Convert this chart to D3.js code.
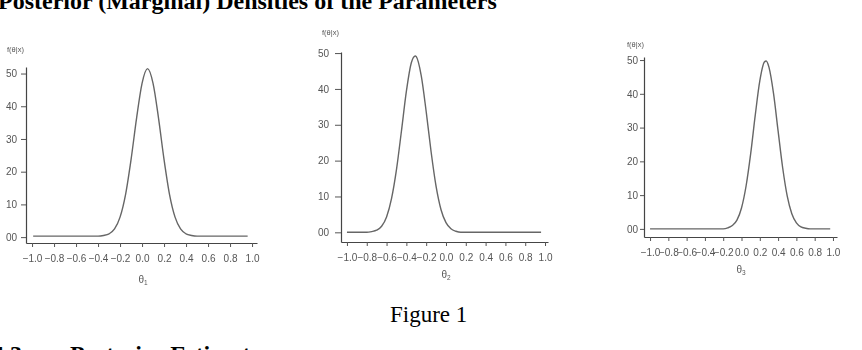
<!DOCTYPE html>
<html lang="en">
<head>
<meta charset="utf-8">
<title>Posterior densities</title>
<script src="https://cdn.jsdelivr.net/npm/d3@7"></script>
<style>
  body { margin: 0; background: #fff; }
  svg { display: block; }
  .doc { font-family: "Liberation Serif", "Times New Roman", serif; fill: #000; }
  .tick text { font-family: "Liberation Sans", Arial, sans-serif; font-size: 10px; fill: #555; }
  .lab { font-family: "Liberation Sans", Arial, sans-serif; fill: #555; }
</style>
</head>
<body>
<svg id="paper" width="862" height="350"></svg>
<script>
// tick labels (same on the three panels)
var xTicks = [-1.0, -0.8, -0.6, -0.4, -0.2, 0.0, 0.2, 0.4, 0.6, 0.8, 1.0];
var yTicks = [0, 10, 20, 30, 40, 50];
var yTickText = ["00", "10", "20", "30", "40", "50"];

// theta 1 : marginal posterior density
var theta1X = [-0.99, -0.40, -0.35, -0.30, -0.25, -0.20, -0.15, -0.10, -0.05, 0.00, 0.05,
               0.10, 0.15, 0.20, 0.25, 0.30, 0.35, 0.40, 0.45, 0.50, 0.96];
var theta1Y = [0.3, 0.3, 0.5, 1.0, 2.5, 6.1, 13.0, 23.7, 36.3, 47.0, 51.5,
               47.0, 36.3, 23.7, 13.0, 6.1, 2.5, 1.0, 0.5, 0.3, 0.3];

// theta 2
var theta2X = [-1.00, -0.80, -0.75, -0.70, -0.65, -0.60, -0.55, -0.50, -0.45, -0.40, -0.35,
               -0.31, -0.30, -0.25, -0.20, -0.15, -0.10, -0.05, 0.00, 0.05, 0.10, 0.15, 0.96];
var theta2Y = [0, 0, 0.2, 0.6, 1.7, 4.3, 9.4, 17.5, 28.2, 39.3, 47.3,
               49.2, 49.0, 43.7, 33.7, 22.4, 12.8, 6.3, 2.7, 1.0, 0.3, 0, 0];

// theta 3
var theta3X = [-1.00, -0.20, -0.15, -0.10, -0.05, 0.00, 0.05, 0.10, 0.15, 0.20, 0.25,
               0.27, 0.30, 0.35, 0.40, 0.45, 0.50, 0.55, 0.60, 0.65, 0.70, 0.75, 0.97];
var theta3Y = [0, 0, 0.3, 1.0, 2.6, 6.2, 12.7, 22.2, 33.6, 43.8, 49.4,
               49.7, 47.9, 40.1, 29.0, 18.1, 9.7, 4.5, 1.8, 0.6, 0.2, 0, 0];

var svg = d3.select("#paper");

// soft scan look
svg.append("defs").append("filter").attr("id", "soft")
  .append("feGaussianBlur").attr("stdDeviation", 0.45);

// page text (cut by the page edges, as on the scan)
svg.append("text").attr("class", "doc").attr("x", -2).attr("y", 9)
  .attr("font-size", 24).attr("font-weight", "bold")
  .text("Posterior (Marginal) Densities of the Parameters");
svg.append("text").attr("class", "doc").attr("x", 390).attr("y", 322)
  .attr("font-size", 23)
  .text("Figure 1");
svg.append("text").attr("class", "doc").attr("x", -8).attr("y", 362)
  .attr("font-size", 24).attr("font-weight", "bold")
  .text("4.3");
svg.append("text").attr("class", "doc").attr("x", 70).attr("y", 362)
  .attr("font-size", 24).attr("font-weight", "bold")
  .text("Posterior Estimates");

var panels = [
  { xs: theta1X, ys: theta1Y, sub: "1", x0: 26, x1: 257, y0: 243, y1: 67,
    xd: [-1.055, 1.045], yd: [-1.8, 52.0], ySize: 5, yPad: 4, fx: 7, fy: 52, lx: 143, ly: 283 },
  { xs: theta2X, ys: theta2Y, sub: "2", x0: 341, x1: 548, y0: 242, y1: 52,
    xd: [-1.06, 1.03], yd: [-2.7, 50.3], ySize: 6, yPad: 6, fx: 322, fy: 35, lx: 446, ly: 278 },
  { xs: theta3X, ys: theta3Y, sub: "3", x0: 644, x1: 837, y0: 237, y1: 57,
    xd: [-1.066, 1.044], yd: [-2.4, 50.9], ySize: 4, yPad: 2, fx: 627, fy: 47, lx: 741, ly: 273 }
];

panels.forEach(function(p) {
  var g = svg.append("g").attr("filter", "url(#soft)");
  var x = d3.scaleLinear().domain(p.xd).range([p.x0, p.x1]);
  var y = d3.scaleLinear().domain(p.yd).range([p.y0, p.y1]);

  var ax = g.append("g").attr("transform", "translate(0," + p.y0 + ")")
    .call(d3.axisBottom(x).tickValues(xTicks).tickSize(4).tickSizeOuter(0).tickPadding(8)
      .tickFormat(d3.format(".1f")));
  var ay = g.append("g").attr("transform", "translate(" + p.x0 + ",0)")
    .call(d3.axisLeft(y).tickValues(yTicks).tickSize(p.ySize).tickSizeOuter(0).tickPadding(p.yPad)
      .tickFormat(function(d, i) { return yTickText[i]; }));
  [ax, ay].forEach(function(a) {
    a.select(".domain").attr("stroke", "#444").attr("stroke-width", 1.2);
    a.selectAll(".tick line").attr("stroke", "#555");
  });

  var pts = p.xs.map(function(v, i) { return [v, p.ys[i]]; });
  g.append("path").datum(pts)
    .attr("fill", "none").attr("stroke", "#666").attr("stroke-width", 1.4)
    .attr("d", d3.line().x(function(d) { return x(d[0]); }).y(function(d) { return y(d[1]); })
      .curve(d3.curveMonotoneX));

  // axis titles
  g.append("text").attr("class", "lab").attr("x", p.fx).attr("y", p.fy)
    .attr("font-size", 7.5).text("f(θ|x)");
  var xl = g.append("text").attr("class", "lab").attr("x", p.lx).attr("y", p.ly)
    .attr("font-size", 10).attr("text-anchor", "middle");
  xl.append("tspan").text("θ");
  xl.append("tspan").attr("font-size", 6.5).attr("dy", 2).text(p.sub);
});
</script>
</body>
</html>
